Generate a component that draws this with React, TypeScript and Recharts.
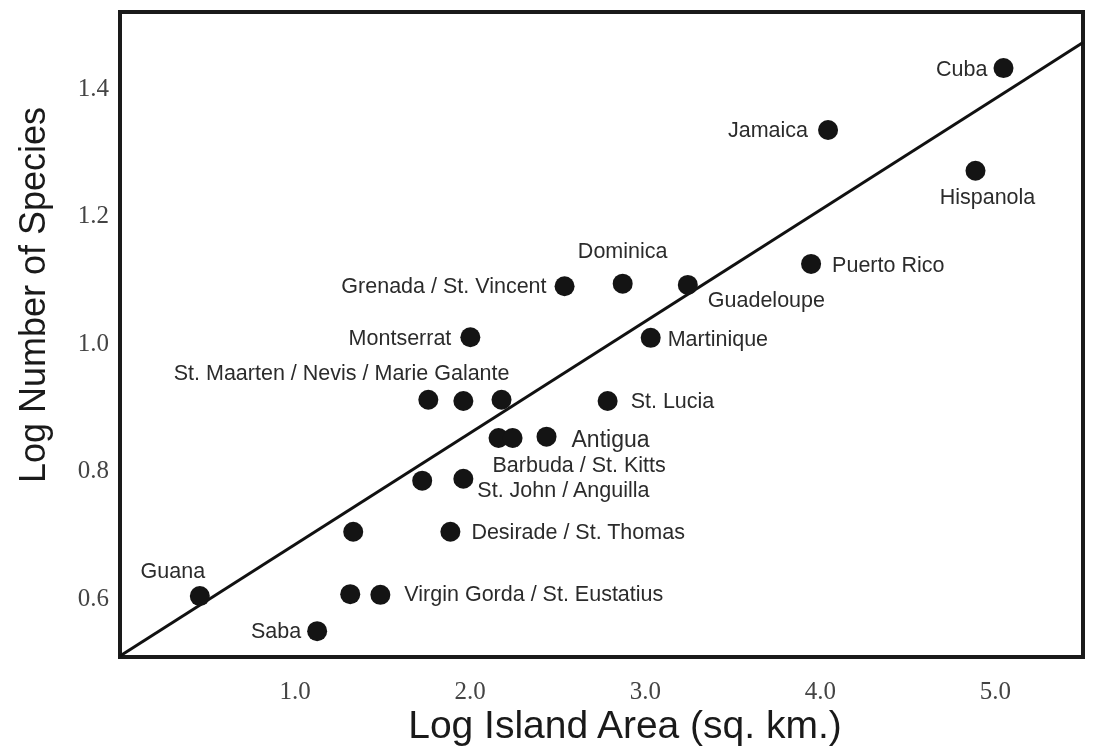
import React from "react";
import {
  ScatterChart,
  Scatter,
  XAxis,
  YAxis,
  ReferenceArea,
  ReferenceLine,
} from "recharts";

// island data (log10 area, log10 species)
const islandNames = [
  "Cuba", "Jamaica", "Hispanola", "Puerto Rico", "Guadeloupe", "Dominica",
  "Grenada", "Montserrat", "Martinique", "St. Maarten", "Nevis", "Marie Galante",
  "St. Lucia", "Barbuda", "St. Kitts", "Antigua", "St. John", "Anguilla",
  "Desirade", "St. Thomas", "Guana", "Virgin Gorda", "St. Eustatius", "Saba",
];
const logArea = [
  5.046, 4.044, 4.886, 3.947, 3.243, 2.871,
  2.539, 2.001, 3.031, 1.761, 1.961, 2.179,
  2.785, 2.162, 2.242, 2.436, 1.726, 1.961,
  1.332, 1.887, 0.456, 1.315, 1.487, 1.126,
];
const logSpecies = [
  1.431, 1.334, 1.27, 1.124, 1.091, 1.093,
  1.089, 1.009, 1.008, 0.911, 0.909, 0.911,
  0.909, 0.851, 0.851, 0.853, 0.784, 0.787,
  0.704, 0.704, 0.603, 0.606, 0.605, 0.548,
];

// regression line end points
const fitX = [0, 5.5];
const fitY = [0.509, 1.471];

const xTicks = [1, 2, 3, 4, 5];
const yTicks = [0.6, 0.8, 1.0, 1.2, 1.4];
const xDomain = [0, 5.5];
const yDomain = [0.5075, 1.519];

// label text and the island dot it hangs off
const labelTexts = [
  "Cuba", "Jamaica", "Hispanola", "Puerto Rico", "Guadeloupe", "Dominica",
  "Grenada / St. Vincent", "Montserrat", "Martinique",
  "St. Maarten / Nevis / Marie Galante", "St. Lucia", "Antigua",
  "Barbuda / St. Kitts", "St. John / Anguilla", "Desirade / St. Thomas",
  "Guana", "Virgin Gorda / St. Eustatius", "Saba",
];
const labelAnchors = [
  "Cuba", "Jamaica", "Hispanola", "Puerto Rico", "Guadeloupe", "Dominica",
  "Grenada", "Montserrat", "Martinique",
  "Marie Galante", "St. Lucia", "Antigua",
  "Barbuda", "Anguilla", "St. Thomas",
  "Guana", "St. Eustatius", "Saba",
];

// pixel offsets for labels (styling only)
const labelStyle: Record<string, { dx: number; dy: number; anchor: string; size?: number }> = {
  "Cuba": { dx: -16, dy: 7.5, anchor: "end" },
  "Jamaica": { dx: -20, dy: 7.5, anchor: "end" },
  "Hispanola": { dx: 12, dy: 33.5, anchor: "middle" },
  "Puerto Rico": { dx: 21, dy: 8.5, anchor: "start" },
  "Guadeloupe": { dx: 20, dy: 22.5, anchor: "start" },
  "Dominica": { dx: 0, dy: -25.5, anchor: "middle" },
  "Grenada / St. Vincent": { dx: -18, dy: 6.5, anchor: "end" },
  "Montserrat": { dx: -19, dy: 7.5, anchor: "end" },
  "Martinique": { dx: 17, dy: 8.5, anchor: "start" },
  "St. Maarten / Nevis / Marie Galante": { dx: 8, dy: -19.5, anchor: "end" },
  "St. Lucia": { dx: 23, dy: 7.5, anchor: "start" },
  "Antigua": { dx: 25, dy: 10, anchor: "start", size: 23 },
  "Barbuda / St. Kitts": { dx: -6, dy: 34.5, anchor: "start" },
  "St. John / Anguilla": { dx: 14, dy: 18.5, anchor: "start" },
  "Desirade / St. Thomas": { dx: 21, dy: 7.5, anchor: "start" },
  "Guana": { dx: -27, dy: -18.5, anchor: "middle" },
  "Virgin Gorda / St. Eustatius": { dx: 24, dy: 6.5, anchor: "start" },
  "Saba": { dx: -16, dy: 6.5, anchor: "end" },
};

const points = islandNames.map((name, i) => ({ name, x: logArea[i], y: logSpecies[i] }));
const labelData = labelTexts.map((text, i) => {
  const p = points.find((pt) => pt.name === labelAnchors[i])!;
  return { x: p.x, y: p.y, text };
});

const sans = "'Liberation Sans', Arial, sans-serif";
const serif = "'Liberation Serif', 'Times New Roman', serif";

const XTick = (props: any) => (
  <text x={props.x} y={props.y + 42} textAnchor="middle" fontFamily={serif} fontSize={25} fill="#444">
    {Number(props.payload.value).toFixed(1)}
  </text>
);

const YTick = (props: any) => (
  <text x={props.x - 11} y={props.y + 8} textAnchor="end" fontFamily={serif} fontSize={25} fill="#444">
    {Number(props.payload.value).toFixed(1)}
  </text>
);

const Dot = (props: any) => <circle cx={props.cx} cy={props.cy} r={10} fill="#141414" />;

const Label = (props: any) => {
  const text = props.payload?.text ?? props.text;
  const s = labelStyle[text];
  return (
    <text
      x={props.cx + s.dx}
      y={props.cy + s.dy}
      textAnchor={s.anchor}
      fontFamily={sans}
      fontSize={s.size ?? 21.5}
      fill="#2b2b2b"
    >
      {text}
    </text>
  );
};

export default function App() {
  // fixed so the full-height chart doesn't push a scrollbar onto the page
  return (
    <div style={{ position: "fixed", left: 8, top: 8, width: 1077, height: 743 }}>
      <ScatterChart width={1077} height={743} margin={{ top: 4, right: 2, left: 0, bottom: 0 }}>
        <XAxis
          type="number"
          dataKey="x"
          domain={xDomain}
          ticks={xTicks}
          allowDataOverflow
          axisLine={false}
          tickLine={false}
          tickSize={0}
          tickMargin={0}
          height={94}
          tick={<XTick />}
        />
        <YAxis
          type="number"
          dataKey="y"
          domain={yDomain}
          ticks={yTicks}
          allowDataOverflow
          axisLine={false}
          tickLine={false}
          tickSize={0}
          tickMargin={0}
          width={112}
          tick={<YTick />}
        />
        <ReferenceLine
          segment={[
            { x: fitX[0], y: fitY[0] },
            { x: fitX[1], y: fitY[1] },
          ]}
          stroke="#111"
          strokeWidth={3}
        />
        <Scatter data={points} shape={<Dot />} isAnimationActive={false} />
        <Scatter data={labelData} shape={<Label />} isAnimationActive={false} />
        <ReferenceArea
          x1={xDomain[0]}
          x2={xDomain[1]}
          y1={yDomain[0]}
          y2={yDomain[1]}
          fill="none"
          stroke="#1a1a1a"
          strokeWidth={4}
        />
        <text x={37} y={287} transform="rotate(-90 37 287)" textAnchor="middle" fontFamily={sans} fontSize={36} fill="#1a1a1a">
          Log Number of Species
        </text>
        <text x={617} y={730} textAnchor="middle" fontFamily={sans} fontSize={39} fill="#1a1a1a">
          Log Island Area (sq. km.)
        </text>
      </ScatterChart>
    </div>
  );
}
